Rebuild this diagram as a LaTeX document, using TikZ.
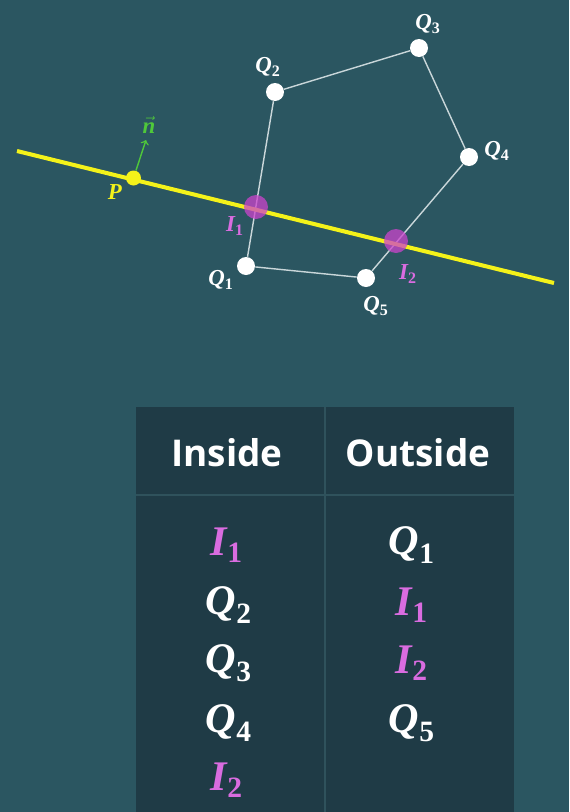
\documentclass[tikz,border=0pt]{standalone}
\usepackage{amsmath}
\usepackage{fontspec}
\setmainfont{Liberation Serif}
\newfontfamily\headfont{Open Sans}
\newcommand{\vx}[2]{$\text{\bfseries\itshape #1}_{\text{\bfseries #2}}$}
\definecolor{board}{HTML}{2B5661}
\definecolor{tabfill}{HTML}{1F3B46}
\definecolor{tabline}{HTML}{2F525C}
\definecolor{edge}{HTML}{C9D6D9}
\definecolor{cutline}{HTML}{F4F21A}
\definecolor{hitpink}{HTML}{CC44CC}
\definecolor{hitlabel}{HTML}{D96CE0}
\definecolor{normal}{HTML}{4FC83A}
\tikzset{
  vertex/.style={circle,fill=white,inner sep=0pt,minimum size=0.36cm},
  hit/.style={circle,fill=hitpink,fill opacity=0.75,inner sep=0pt,minimum size=0.48cm},
  ptlab/.style={text=white,font=\fontsize{13}{15}\selectfont},
  hitlab/.style={text=hitlabel,font=\fontsize{13}{15}\selectfont},
  cell/.style={text=white,font=\fontsize{24}{28}\selectfont},
  hitcell/.style={text=hitlabel,font=\fontsize{24}{28}\selectfont},
  head/.style={text=white,font=\headfont\bfseries\fontsize{21}{25}\selectfont}
}
\begin{document}
\begin{tikzpicture}[x=0.02cm,y=-0.02cm]
\fill[board] (0,0) rectangle (569,812);
\useasboundingbox (0,0) rectangle (569,812);
%
% polygon
\node[vertex] (q1) at (246,266) {};
\node[vertex] (q2) at (275,92) {};
\node[vertex] (q3) at (419,48) {};
\node[vertex] (q4) at (469,157) {};
\node[vertex] (q5) at (366,278) {};
\draw[edge,line width=0.8pt] (q1) -- (q2) -- (q3) -- (q4) -- (q5) -- (q1);
%
% clipping line
\coordinate (lineL) at (17,151);
\coordinate (lineR) at (554,283);
\draw[cutline,line width=2.3pt] (lineL) -- (lineR);
\node[circle,fill=cutline,inner sep=0pt,minimum size=0.3cm] (p) at (133.5,178) {};
\coordinate (ntip) at (146,140);
\draw[normal,line width=0.8pt,->] (p) -- (ntip);
\node[text=normal,font=\fontsize{13}{15}\selectfont] (nlab) at (149,125) {$\vec{\text{\bfseries\itshape n}}$};
\node[text=cutline,font=\fontsize{13}{15}\selectfont] (plab) at (115,192) {\textbf{\textit{P}}};
%
\node[hit] (i1) at (256,207) {};
\node[hit] (i2) at (396,241) {};
%
\node[ptlab] at (221,280) {\vx{Q}{1}};
\node[ptlab] at (268,67) {\vx{Q}{2}};
\node[ptlab] at (428,24) {\vx{Q}{3}};
\node[ptlab] at (497,151) {\vx{Q}{4}};
\node[ptlab] at (376,306) {\vx{Q}{5}};
\node[hitlab] at (235,226) {\vx{I}{1}};
\node[hitlab] at (408,274) {\vx{I}{2}};
%
% table
\fill[tabfill] (136,407) rectangle (514,812);
\draw[tabline,line width=0.8pt] (325,407) -- (325,812);
\draw[tabline,line width=0.8pt] (136,495) -- (514,495);
\node[head] (hin) at (227,453) {Inside};
\node[head] (hout) at (418,453) {Outside};
%
\node[hitcell] at (227,545) {\vx{I}{1}};
\node[cell] at (229,605) {\vx{Q}{2}};
\node[cell] at (229,663) {\vx{Q}{3}};
\node[cell] at (229,723) {\vx{Q}{4}};
\node[hitcell] at (227,780) {\vx{I}{2}};
%
\node[cell] at (412,545) {\vx{Q}{1}};
\node[hitcell] at (412,605) {\vx{I}{1}};
\node[hitcell] at (412,663) {\vx{I}{2}};
\node[cell] at (412,723) {\vx{Q}{5}};
\end{tikzpicture}
\end{document}
